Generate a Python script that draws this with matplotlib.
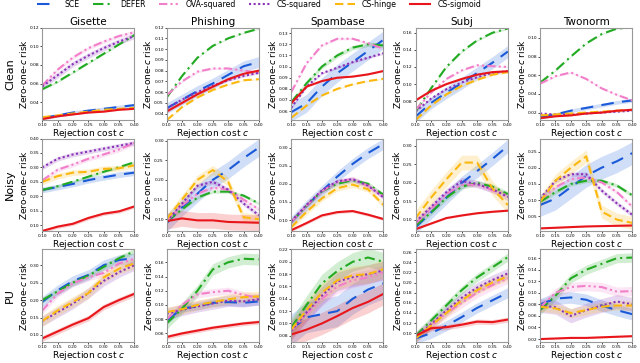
import numpy as np
import matplotlib
matplotlib.use("Agg")
import matplotlib.pyplot as plt

# ---------------- data ----------------
C = [0.10, 0.15, 0.20, 0.25, 0.30, 0.35, 0.40]
DATASETS = ["Gisette", "Phishing", "Spambase", "Subj", "Twonorm"]
ROWS = ["Clean", "Noisy", "PU"]
METHODS = ["SCE", "DEFER", "OVA-squared", "CS-squared", "CS-hinge", "CS-sigmoid"]

# Clean row: one list of 7 per dataset
SCE_CLEAN = [[0.023, 0.026, 0.029, 0.031, 0.033, 0.035, 0.037],
             [0.045, 0.053, 0.061, 0.068, 0.076, 0.084, 0.088],
             [0.059, 0.067, 0.082, 0.094, 0.104, 0.114, 0.124],
             [0.062, 0.078, 0.090, 0.101, 0.113, 0.125, 0.138],
             [0.015, 0.018, 0.022, 0.025, 0.028, 0.031, 0.033]]
DEFER_CLEAN = [[0.054, 0.062, 0.072, 0.082, 0.092, 0.102, 0.112],
               [0.055, 0.075, 0.092, 0.103, 0.110, 0.115, 0.119],
               [0.068, 0.085, 0.100, 0.110, 0.117, 0.120, 0.119],
               [0.068, 0.095, 0.120, 0.138, 0.151, 0.160, 0.165],
               [0.052, 0.065, 0.080, 0.094, 0.104, 0.110, 0.111]]
OVA_CLEAN = [[0.058, 0.075, 0.088, 0.098, 0.105, 0.111, 0.115],
             [0.057, 0.070, 0.079, 0.082, 0.082, 0.080, 0.078],
             [0.077, 0.103, 0.119, 0.125, 0.125, 0.121, 0.116],
             [0.070, 0.090, 0.106, 0.116, 0.122, 0.121, 0.120],
             [0.051, 0.059, 0.063, 0.056, 0.046, 0.039, 0.033]]
CSSQ_CLEAN = [[0.057, 0.069, 0.081, 0.090, 0.098, 0.105, 0.111],
              [0.045, 0.053, 0.060, 0.066, 0.071, 0.075, 0.078],
              [0.063, 0.082, 0.094, 0.099, 0.104, 0.108, 0.112],
              [0.068, 0.083, 0.094, 0.102, 0.108, 0.113, 0.115],
              [0.019, 0.018, 0.018, 0.019, 0.020, 0.021, 0.022]]
HINGE_CLEAN = [[0.024, 0.026, 0.028, 0.030, 0.032, 0.033, 0.034],
               [0.034, 0.046, 0.055, 0.062, 0.067, 0.071, 0.072],
               [0.054, 0.065, 0.074, 0.080, 0.084, 0.087, 0.089],
               [0.058, 0.075, 0.088, 0.098, 0.105, 0.111, 0.114],
               [0.017, 0.018, 0.019, 0.020, 0.021, 0.022, 0.023]]
SIG_CLEAN = [[0.022, 0.025, 0.027, 0.029, 0.030, 0.032, 0.033],
             [0.042, 0.050, 0.058, 0.065, 0.072, 0.077, 0.080],
             [0.067, 0.082, 0.087, 0.090, 0.091, 0.093, 0.096],
             [0.081, 0.092, 0.100, 0.106, 0.111, 0.114, 0.115],
             [0.014, 0.016, 0.017, 0.019, 0.020, 0.022, 0.023]]

SCE_NOISY = [[0.222, 0.232, 0.243, 0.256, 0.266, 0.275, 0.282],
             [0.090, 0.130, 0.165, 0.200, 0.225, 0.255, 0.282],
             [0.095, 0.140, 0.180, 0.220, 0.255, 0.285, 0.310],
             [0.080, 0.120, 0.160, 0.200, 0.232, 0.265, 0.300],
             [0.085, 0.105, 0.140, 0.175, 0.200, 0.220, 0.245]]
DEFER_NOISY = [[0.222, 0.235, 0.251, 0.268, 0.285, 0.301, 0.318],
               [0.095, 0.125, 0.155, 0.170, 0.170, 0.160, 0.140],
               [0.095, 0.140, 0.180, 0.200, 0.210, 0.200, 0.170],
               [0.085, 0.120, 0.160, 0.190, 0.200, 0.190, 0.170],
               [0.095, 0.125, 0.150, 0.160, 0.160, 0.145, 0.115]]
OVA_NOISY = [[0.255, 0.292, 0.310, 0.330, 0.345, 0.362, 0.385],
             [0.095, 0.135, 0.165, 0.180, 0.175, 0.150, 0.125],
             [0.095, 0.140, 0.180, 0.205, 0.213, 0.195, 0.165],
             [0.090, 0.130, 0.170, 0.195, 0.195, 0.180, 0.165],
             [0.100, 0.140, 0.165, 0.170, 0.155, 0.125, 0.080]]
CSSQ_NOISY = [[0.300, 0.330, 0.345, 0.355, 0.365, 0.375, 0.385],
              [0.095, 0.140, 0.185, 0.195, 0.175, 0.140, 0.110],
              [0.097, 0.142, 0.182, 0.207, 0.213, 0.195, 0.163],
              [0.095, 0.135, 0.175, 0.205, 0.197, 0.183, 0.162],
              [0.105, 0.160, 0.180, 0.180, 0.130, 0.090, 0.055]]
HINGE_NOISY = [[0.250, 0.270, 0.282, 0.285, 0.295, 0.297, 0.307],
               [0.100, 0.150, 0.200, 0.225, 0.195, 0.105, 0.100],
               [0.080, 0.123, 0.160, 0.188, 0.198, 0.185, 0.142],
               [0.105, 0.160, 0.210, 0.255, 0.255, 0.185, 0.140],
               [0.095, 0.160, 0.200, 0.235, 0.065, 0.040, 0.030]]
SIG_NOISY = [[0.080, 0.095, 0.105, 0.125, 0.140, 0.148, 0.165],
             [0.095, 0.102, 0.097, 0.097, 0.093, 0.092, 0.091],
             [0.072, 0.092, 0.113, 0.122, 0.125, 0.115, 0.103],
             [0.075, 0.090, 0.105, 0.112, 0.118, 0.122, 0.125],
             [0.013, 0.015, 0.017, 0.019, 0.020, 0.021, 0.022]]

SCE_PU = [[0.195, 0.228, 0.255, 0.272, 0.300, 0.315, 0.320],
          [0.078, 0.095, 0.098, 0.103, 0.104, 0.103, 0.105],
          [0.090, 0.110, 0.115, 0.120, 0.140, 0.155, 0.165],
          [0.090, 0.100, 0.115, 0.132, 0.150, 0.165, 0.180],
          [0.080, 0.090, 0.092, 0.088, 0.078, 0.070, 0.063]]
DEFER_PU = [[0.200, 0.225, 0.250, 0.270, 0.295, 0.320, 0.340],
            [0.074, 0.095, 0.120, 0.150, 0.160, 0.165, 0.164],
            [0.093, 0.130, 0.165, 0.185, 0.200, 0.207, 0.200],
            [0.095, 0.125, 0.155, 0.185, 0.210, 0.230, 0.250],
            [0.070, 0.095, 0.125, 0.140, 0.150, 0.160, 0.161]]
OVA_PU = [[0.170, 0.218, 0.248, 0.265, 0.278, 0.305, 0.318],
          [0.080, 0.100, 0.115, 0.118, 0.120, 0.114, 0.110],
          [0.088, 0.115, 0.140, 0.160, 0.170, 0.175, 0.183],
          [0.092, 0.115, 0.140, 0.160, 0.180, 0.195, 0.208],
          [0.075, 0.100, 0.110, 0.112, 0.110, 0.102, 0.103]]
CSSQ_PU = [[0.140, 0.165, 0.190, 0.220, 0.255, 0.280, 0.300],
           [0.088, 0.093, 0.098, 0.102, 0.106, 0.105, 0.108],
           [0.088, 0.118, 0.145, 0.168, 0.175, 0.180, 0.186],
           [0.093, 0.118, 0.145, 0.170, 0.190, 0.205, 0.218],
           [0.078, 0.075, 0.060, 0.070, 0.078, 0.085, 0.080]]
HINGE_PU = [[0.140, 0.170, 0.195, 0.220, 0.265, 0.290, 0.305],
            [0.090, 0.094, 0.100, 0.104, 0.108, 0.111, 0.112],
            [0.090, 0.122, 0.150, 0.170, 0.178, 0.180, 0.188],
            [0.090, 0.115, 0.140, 0.165, 0.185, 0.200, 0.212],
            [0.076, 0.073, 0.065, 0.070, 0.076, 0.078, 0.078]]
SIG_PU = [[0.090, 0.110, 0.130, 0.148, 0.180, 0.200, 0.218],
          [0.055, 0.060, 0.064, 0.068, 0.071, 0.074, 0.076],
          [0.082, 0.090, 0.100, 0.112, 0.125, 0.135, 0.148],
          [0.095, 0.110, 0.112, 0.117, 0.123, 0.122, 0.127],
          [0.020, 0.021, 0.022, 0.022, 0.023, 0.024, 0.025]]

# band half-widths (std) per dataset for each method, per row
STD_CLEAN = {"SCE": [0.002, 0.005, 0.008, 0.007, 0.002],
             "DEFER": [0.001, 0.0005, 0.002, 0.001, 0.0005],
             "OVA-squared": [0.002, 0.001, 0.001, 0.001, 0.001],
             "CS-squared": [0.003, 0.001, 0.001, 0.001, 0.0005],
             "CS-hinge": [0.0005, 0.0005, 0.0005, 0.001, 0.0005],
             "CS-sigmoid": [0.0005, 0.001, 0.0005, 0.001, 0.0005]}
STD_NOISY = {"SCE": [0.010, 0.022, 0.015, 0.018, 0.035],
             "DEFER": [0.005, 0.004, 0.006, 0.007, 0.006],
             "OVA-squared": [0.008, 0.005, 0.008, 0.006, 0.006],
             "CS-squared": [0.008, 0.006, 0.006, 0.010, 0.007],
             "CS-hinge": [0.010, 0.012, 0.008, 0.020, 0.020],
             "CS-sigmoid": [0.006, 0.020, 0.004, 0.002, 0.001]}
STD_PU = {"SCE": [0.015, 0.005, 0.025, 0.010, 0.010],
          "DEFER": [0.008, 0.008, 0.015, 0.008, 0.008],
          "OVA-squared": [0.010, 0.005, 0.012, 0.010, 0.008],
          "CS-squared": [0.015, 0.008, 0.015, 0.010, 0.012],
          "CS-hinge": [0.015, 0.007, 0.015, 0.008, 0.008],
          "CS-sigmoid": [0.008, 0.003, 0.018, 0.005, 0.001]}

YLIMS = [[(0.021, 0.120), (0.034, 0.120), (0.052, 0.135), (0.058, 0.166), (0.012, 0.111)],
         [(0.080, 0.400), (0.070, 0.305), (0.070, 0.325), (0.070, 0.320), (0.005, 0.290)],
         [(0.080, 0.345), (0.048, 0.178), (0.070, 0.220), (0.083, 0.265), (0.015, 0.175)]]
YTICKS = [[[0.04, 0.06, 0.08, 0.10, 0.12], [0.04, 0.05, 0.06, 0.07, 0.08, 0.09, 0.10, 0.11, 0.12],
           [0.06, 0.07, 0.08, 0.09, 0.10, 0.11, 0.12, 0.13], [0.08, 0.10, 0.12, 0.14, 0.16],
           [0.02, 0.04, 0.06, 0.08, 0.10]],
          [[0.10, 0.15, 0.20, 0.25, 0.30, 0.35, 0.40], [0.10, 0.15, 0.20, 0.25, 0.30],
           [0.10, 0.15, 0.20, 0.25, 0.30], [0.10, 0.15, 0.20, 0.25, 0.30],
           [0.05, 0.10, 0.15, 0.20, 0.25]],
          [[0.10, 0.15, 0.20, 0.25, 0.30], [0.06, 0.08, 0.10, 0.12, 0.14, 0.16],
           [0.08, 0.10, 0.12, 0.14, 0.16, 0.18, 0.20, 0.22],
           [0.10, 0.12, 0.14, 0.16, 0.18, 0.20, 0.22, 0.24, 0.26],
           [0.02, 0.04, 0.06, 0.08, 0.10, 0.12, 0.14, 0.16]]]
XTICKS = [0.10, 0.15, 0.20, 0.25, 0.30, 0.35, 0.40]

# ---------------- style ----------------
COLORS = {"SCE": "#1a5ad8", "DEFER": "#22aa22", "OVA-squared": "#f27fc9",
          "CS-squared": "#8a32b8", "CS-hinge": "#fbb80f", "CS-sigmoid": "#e8161b"}
DASHES = {"SCE": (6, 4), "DEFER": (5, 2, 1, 2), "OVA-squared": (4, 1.5, 1, 1.5, 1, 1.5),
          "CS-squared": (1, 1.2), "CS-hinge": (4, 2), "CS-sigmoid": None}

MEANS = {"Clean": dict(zip(METHODS, [SCE_CLEAN, DEFER_CLEAN, OVA_CLEAN, CSSQ_CLEAN, HINGE_CLEAN, SIG_CLEAN])),
         "Noisy": dict(zip(METHODS, [SCE_NOISY, DEFER_NOISY, OVA_NOISY, CSSQ_NOISY, HINGE_NOISY, SIG_NOISY])),
         "PU": dict(zip(METHODS, [SCE_PU, DEFER_PU, OVA_PU, CSSQ_PU, HINGE_PU, SIG_PU]))}
STDS = {"Clean": STD_CLEAN, "Noisy": STD_NOISY, "PU": STD_PU}

fig, axes = plt.subplots(3, 5, figsize=(6.4, 3.63), dpi=100)
fig.subplots_adjust(left=0.066, right=0.988, top=0.924, bottom=0.058, wspace=0.35, hspace=0.2)

handles = []
for r, row in enumerate(ROWS):
    for d, ds in enumerate(DATASETS):
        ax = axes[r, d]
        for m in METHODS:
            y = np.array(MEANS[row][m][d])
            s = STDS[row][m][d]
            col = COLORS[m]
            ax.fill_between(C, y - s, y + s, color=col, alpha=0.2, lw=0)
            if DASHES[m] is None:
                ln, = ax.plot(C, y, color=col, lw=1.5, label=m)
            else:
                ln, = ax.plot(C, y, color=col, lw=1.5, dashes=DASHES[m], label=m)
            if r == 0 and d == 0:
                handles.append(ln)
        ax.set_xlim(0.10, 0.40)
        ax.set_ylim(*YLIMS[r][d])
        ax.set_xticks(XTICKS)
        ax.set_xticklabels([f"{t:.2f}" for t in XTICKS])
        ax.set_yticks(YTICKS[r][d])
        ax.set_yticklabels([f"{t:.2f}" for t in YTICKS[r][d]])
        ax.tick_params(labelsize=3.2, length=1.2, width=0.5, pad=0.8)
        ax.set_xlabel("Rejection cost $c$", fontsize=6.5, labelpad=0)
        ax.set_ylabel("Zero-one-$c$ risk", fontsize=6.5, labelpad=0.5)
        for sp in ax.spines.values():
            sp.set_color("#999999")
            sp.set_linewidth(0.8)
        if r == 0:
            ax.set_title(ds, fontsize=7.5, pad=2)
    pos = axes[r, 0].get_position()
    fig.text(0.016, (pos.y0 + pos.y1) / 2, row,
             rotation=90, fontsize=8, ha="center", va="center")

fig.legend(handles=handles, labels=METHODS, loc="upper center", ncol=6, fontsize=5.6,
           frameon=False, bbox_to_anchor=(0.405, 1.02), handlelength=2.6, columnspacing=1.7,
           handletextpad=0.9)

fig.savefig("out.png", dpi=100)
